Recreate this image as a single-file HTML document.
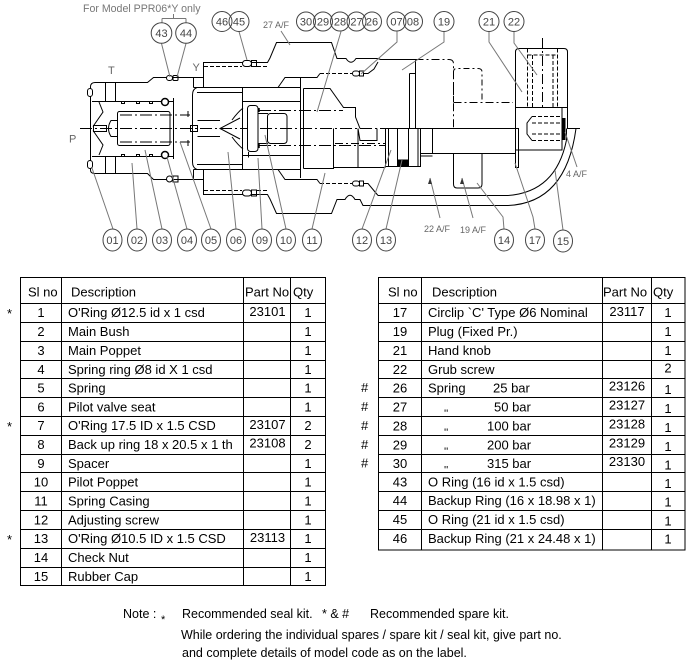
<!DOCTYPE html>
<html><head><meta charset="utf-8">
<style>
html,body{margin:0;padding:0;background:#fff;}
svg{display:block;}
text{font-family:"Liberation Sans",Arial,sans-serif;}
</style></head><body>
<svg width="688" height="667" viewBox="0 0 688 667" xmlns="http://www.w3.org/2000/svg">
<rect width="688" height="667" fill="#fff"/>

<!-- ================= DRAWING ================= -->
<g fill="none" stroke="#000" stroke-width="1">
<path d="M80 128.5H385" stroke-dasharray="12 3 2 3"/>
<path d="M90.5 170V87Q90.5 82.5 95 82.5H147.5L153.5 77.5H193.5V87.5"/>
<path d="M90.5 170Q90.5 173.5 95 173.5H147.5L153.5 179.5H193.5V169.5"/>
<path d="M105.5 82.5V101.5M115.5 82.5V101.5M105.5 156.5V173.5M115.5 156.5V173.5"/>
<path d="M92 101.5H174M92 156.5H174"/>
<rect x="87.5" y="88.5" width="5" height="8" rx="2.5" fill="#fff"/>
<rect x="87.5" y="160.5" width="5" height="8" rx="2.5" fill="#fff"/>
<rect x="121.5" y="101.5" width="3" height="2"/><rect x="136.5" y="101.5" width="3" height="2"/><rect x="149.5" y="101.5" width="3" height="2"/>
<rect x="121.5" y="154.5" width="3" height="2"/><rect x="136.5" y="154.5" width="3" height="2"/><rect x="149.5" y="154.5" width="3" height="2"/>
<path d="M99 102L103 112L93 126.5M99 155L103 145L93 130.5"/>
<rect x="93.5" y="125.5" width="13" height="6"/>
<path d="M117.5 120.5H111Q106 128.5 111 136.5H117.5"/>
<rect x="117.5" y="111.5" width="52.5" height="34" rx="2"/>
<path d="M120 115H190M120 142H190" stroke-dasharray="12 3 2 3"/>
<path d="M173.5 98V159"/>
<circle cx="165" cy="102" r="3.5" stroke-width="1.5" fill="#fff"/>
<circle cx="165" cy="155" r="3.5" stroke-width="1.5" fill="#fff"/>
<path d="M188 111V117M188 140V146"/>
<path d="M193.5 77.5H203.5M193.5 179.5H203.5"/>
<rect x="166.5" y="75.5" width="6" height="5" rx="2.5" fill="#fff"/><rect x="173" y="75.5" width="5" height="5" rx="1"/>
<rect x="166.5" y="176" width="6" height="6" rx="3" fill="#fff"/><rect x="173" y="176" width="5" height="6"/>
<path d="M197 87.5Q192.5 89 192.5 95V162Q192.5 168 197 169.5"/>
<path d="M193.5 87.5H300.5M193.5 169.5H300.5"/>
<path d="M197 92.5H242.5M197 164.5H242.5"/>
<path d="M242.5 87.5V169.5"/>
<rect x="190.5" y="125.5" width="7" height="6"/>
<path d="M197.5 120.5H220M197.5 136.5H220"/>
<path d="M240 118L220 128.5L240 139"/>
<path d="M232 120Q238 112 243 108M232 137Q238 145 243 149"/>
<path d="M242.5 101.5H300.5M242.5 155.5H300.5"/>
<rect x="247.5" y="105.5" width="10.5" height="46" rx="3" fill="#fff"/>
<path d="M258 113.5H268M258 143.5H268"/>
<rect x="267.5" y="113.5" width="19.5" height="30" rx="3"/>
<path d="M259 110.5H343M259 145.5H385" stroke-dasharray="12 3 2 3"/>
<path d="M259 108V112M259 144V148" stroke-width="1.5"/>
<path d="M248.5 152V157.5"/>
<path d="M203.5 87.5V62.5H267.5L270 58L276.5 42.5H331.5L337 58.5H346Q351 66 356 58.5H378L380.5 59.5H415.5"/>
<path d="M415.5 59.5H449Q453.5 59.5 453.5 64V128.5" stroke-dasharray="8 3 2 3"/>
<path d="M204 66.5H242M257 66.5H268" stroke-dasharray="4 2"/>
<rect x="242.5" y="60.5" width="9" height="6" rx="3" fill="#fff"/><rect x="251.5" y="60.5" width="5" height="6"/>
<path d="M203.5 169.5V194.5H267.5L270 199L276.5 213.5H331.5L337 199.5H345Q350 191 355 199.5H360L363 205.5H508"/>
<path d="M204 190.5H242M257 190.5H268" stroke-dasharray="4 2"/>
<rect x="242.5" y="190" width="9" height="6" rx="3" fill="#fff"/><rect x="251.5" y="190" width="5" height="6"/>
<path d="M278 87.5L285 77.5H317L320 73.5M363 73.5H368L374 69L378 62"/>
<path d="M320 73.5H352" stroke-dasharray="4 2"/>
<rect x="352.5" y="71" width="7" height="5" rx="2.5" fill="#fff"/><rect x="359.5" y="71" width="4" height="5"/>
<path d="M278 169.5L285 179.5H317L320 183.5M363 183.5H368L378 195.5"/>
<path d="M320 183.5H352" stroke-dasharray="4 2"/>
<rect x="352.5" y="181" width="7" height="5" rx="2.5" fill="#fff"/><rect x="359.5" y="181" width="4" height="5"/>
<path d="M300.5 78V178M303.5 88.5V168.5"/>
<path d="M303.5 88.5H330L343.5 107.5H355.5V117L360 128.5"/>
<path d="M303.5 168.5H333.5V128.5M333.5 167.5H358V128.5"/>
<path d="M358 128.5L360 140.5H377V128.5"/>
<path d="M335 143.5H385" stroke-dasharray="8 3 2 3"/>
<path d="M335 167.5H385.5"/>
<rect x="385.5" y="128.5" width="35" height="38"/>
<path d="M388.5 128.5V166.5M397.5 128.5V166.5M408.5 128.5V166.5M418 128.5V166.5"/>
<rect x="397.5" y="160" width="11" height="6.5" fill="#000"/>
<path d="M409.5 73.5V128.5M415.5 59.5V128.5M409.5 73.5H415.5"/>
<path d="M385.5 128.5H515.5"/>
<path d="M432.5 128.5V153.5M420.5 153.5H515.5M420.5 156H432.5"/>
<path d="M453.5 102.5H513" stroke-dasharray="8 3 2 3"/>
<path d="M453.5 102V72Q453.5 68.5 457 68.5H478Q482 68.5 482 72V102" stroke-dasharray="6 3 2 3"/>
<path d="M453.5 153.5V184Q453.5 188 457 188H478Q482 188 482 184V153.5"/>
<path d="M515.5 107.5V52Q515.5 48.5 519 48.5H564Q567.5 48.5 567.5 52V128.5"/>
<path d="M515.5 107.5H567.5"/>
<rect x="515.5" y="107.5" width="46.5" height="42.5"/>
<path d="M527.5 48.5V107M557.5 48.5V107M532.5 55V107M553 55V107M527.5 55H557.5" stroke-dasharray="4 2"/>
<path d="M542.5 38V110" stroke-dasharray="10 3 2 3"/>
<path d="M532 116.5H562M532 123H562M532 134H562M532 140.5H562" stroke-dasharray="4 2"/>
<path d="M532 116.5L527 123V134L532 140.5"/>
<rect x="515.5" y="128.5" width="3" height="39"/>
<rect x="562.5" y="118" width="3" height="22" fill="#000" stroke="none"/>
<path d="M567 128.5H580"/>
<path d="M508 205.5Q566 203 576 128.5"/>
<path d="M378 195.5H508Q556 192 566.5 140"/>
<path d="M566.5 128.5V140M576 128.5H570"/>
</g>

<g fill="none" stroke="#777" stroke-width="1">
<path d="M161.5 43.5L170 77M186 43.5L177 77"/>
<path d="M173.5 14V18.5M162 18.5H186M162 18.5V23M186 18.5V23"/>
<path d="M239 31.5L247 60"/>
<path d="M281 31L290 45"/>
<path d="M341 31.5L317 112"/>
<path d="M397 31.5V42L361 74"/>
<path d="M444 31.5V42L402 70"/>
<path d="M489 31.5V42L522 92"/>
<path d="M514 31.5V43L537 75"/>
<path d="M113 229L92 168M137 229L132 163M162 229L145 150M187 229L167 157M211 229L180 142"/>
<path d="M236 229L228 152M262 229L258 158M286 229L265 135M312 229L325 173"/>
<path d="M362 229L391 150M386 229L402 160"/>
<path d="M440 218L430 178M473 218L462 178"/>
<path d="M504 229L503 217L477 183M535 229L533 217L515 163M563 230L555 170M577 167L565 132"/>
</g>
<path d="M430 178l-2 6h4zM462 178l-2 6h4z" fill="#333"/>

<g fill="none" stroke="#444" stroke-width="1">
<circle cx="161.5" cy="33" r="10.3"/><circle cx="186" cy="33" r="10.3"/>
<circle cx="222" cy="21.5" r="10"/><circle cx="239" cy="21.5" r="10"/>
<circle cx="306" cy="21.5" r="9.5"/><circle cx="323" cy="21.5" r="9.5"/><circle cx="340" cy="21.5" r="9.5"/><circle cx="356.5" cy="21.5" r="9.5"/><circle cx="372" cy="21.5" r="9.5"/>
<circle cx="396.5" cy="21.5" r="9.5"/><circle cx="413" cy="21.5" r="9.5"/>
<circle cx="444" cy="21.5" r="10"/><circle cx="489" cy="21.5" r="10"/><circle cx="514" cy="21.5" r="10"/>
<ellipse cx="112.5" cy="240" rx="9.5" ry="11"/><ellipse cx="137" cy="240" rx="9.5" ry="11"/><ellipse cx="162" cy="240" rx="9.5" ry="11"/><ellipse cx="187" cy="240" rx="9.5" ry="11"/>
<ellipse cx="211" cy="240" rx="9.5" ry="11"/><ellipse cx="236" cy="240" rx="9.5" ry="11"/><ellipse cx="262" cy="240" rx="9.5" ry="11"/><ellipse cx="286" cy="240" rx="9.5" ry="11"/>
<ellipse cx="312" cy="240" rx="9.5" ry="11"/><ellipse cx="362" cy="240" rx="9.5" ry="11"/><ellipse cx="386" cy="240" rx="9.5" ry="11"/>
<ellipse cx="504" cy="240" rx="9.5" ry="11"/><ellipse cx="535" cy="240" rx="9.5" ry="11"/><ellipse cx="563" cy="241" rx="9.5" ry="11"/>
</g>
<g font-size="11" fill="#444" text-anchor="middle">
<text x="161.5" y="37">43</text><text x="186" y="37">44</text>
<text x="222" y="25.5">46</text><text x="239" y="25.5">45</text>
<text x="306" y="25.5">30</text><text x="323" y="25.5">29</text><text x="340" y="25.5">28</text><text x="356.5" y="25.5">27</text><text x="372" y="25.5">26</text>
<text x="396.5" y="25.5">07</text><text x="413" y="25.5">08</text>
<text x="444" y="25.5">19</text><text x="489" y="25.5">21</text><text x="514" y="25.5">22</text>
<text x="112.5" y="244">01</text><text x="137" y="244">02</text><text x="162" y="244">03</text><text x="187" y="244">04</text>
<text x="211" y="244">05</text><text x="236" y="244">06</text><text x="262" y="244">09</text><text x="286" y="244">10</text>
<text x="312" y="244">11</text><text x="362" y="244">12</text><text x="386" y="244">13</text>
<text x="504" y="244">14</text><text x="535" y="244">17</text><text x="563" y="245">15</text>
</g>
<g fill="#666">
<text x="83" y="12" font-size="10.6" fill="#777">For Model PPR06*Y only</text>
<text x="263" y="28" font-size="9">27 A/F</text>
<text x="424" y="232" font-size="9">22 A/F</text>
<text x="460" y="233" font-size="9">19 A/F</text>
<text x="566" y="177" font-size="9">4 A/F</text>
<text x="108" y="74" font-size="11">T</text>
<text x="192.5" y="71" font-size="11">Y</text>
<text x="69" y="142.5" font-size="11">P</text>
</g>

<!-- ================= TABLES ================= -->
<g stroke="#000" stroke-width="1" fill="none" shape-rendering="crispEdges">
<rect x="20.5" y="277.5" width="305" height="308"/>
<path d="M61.5 277V586M243.5 277V586M290.5 277V586"/>
<path d="M20 303.5H326M20 322.5H326M20 341.5H326M20 360.5H326M20 378.5H326M20 397.5H326M20 416.5H326M20 435.5H326M20 454.5H326M20 472.5H326M20 491.5H326M20 510.5H326M20 529.5H326M20 548.5H326M20 567.5H326"/>
<rect x="378.5" y="277.5" width="306.5" height="272.5"/>
<path d="M421.5 277V550M602.5 277V550M651.5 277V550"/>
<path d="M378 303.5H685M378 322.5H685M378 341.5H685M378 360.5H685M378 378.5H685M378 397.5H685M378 416.5H685M378 435.5H685M378 454.5H685M378 472.5H685M378 491.5H685M378 510.5H685M378 529.5H685"/>
</g>

<g font-size="13" fill="#000">
<text x="28" y="296.5">Sl no</text>
<text x="71" y="296.5">Description</text>
<text x="245" y="296.5">Part No</text>
<text x="293" y="296.5">Qty</text>
<text x="7" y="318">*</text><text x="7" y="431">*</text><text x="7" y="544">*</text>
<text x="68" y="316.8">O'Ring Ø12.5 id x 1 csd</text>
<text x="68" y="335.8">Main Bush</text>
<text x="68" y="354.8">Main Poppet</text>
<text x="68" y="373.8">Spring ring Ø8 id X 1 csd</text>
<text x="68" y="392.3">Spring</text>
<text x="68" y="411.3">Pilot valve seat</text>
<text x="68" y="429.8">O'Ring 17.5 ID x 1.5 CSD</text>
<text x="68" y="448.8">Back up ring 18 x 20.5 x 1 th</text>
<text x="68" y="467.8">Spacer</text>
<text x="68" y="486.3">Pilot Poppet</text>
<text x="68" y="505.3">Spring Casing</text>
<text x="68" y="524.3">Adjusting screw</text>
<text x="68" y="542.8">O'Ring Ø10.5 ID x 1.5 CSD</text>
<text x="68" y="561.8">Check Nut</text>
<text x="68" y="580.8">Rubber Cap</text>
<g text-anchor="middle">
<text x="41" y="316.8">1</text><text x="41" y="335.8">2</text><text x="41" y="354.8">3</text><text x="41" y="373.8">4</text>
<text x="41" y="392.3">5</text><text x="41" y="411.3">6</text><text x="41" y="429.8">7</text><text x="41" y="448.8">8</text>
<text x="41" y="467.8">9</text><text x="41" y="486.3">10</text><text x="41" y="505.3">11</text><text x="41" y="524.3">12</text>
<text x="41" y="542.8">13</text><text x="41" y="561.8">14</text><text x="41" y="580.8">15</text>
<text x="267.5" y="315.8">23101</text><text x="267.5" y="428.8">23107</text><text x="267.5" y="447.3">23108</text><text x="267.5" y="541.8">23113</text>
<text x="308" y="316.8">1</text><text x="308" y="335.8">1</text><text x="308" y="354.8">1</text><text x="308" y="373.8">1</text>
<text x="308" y="392.3">1</text><text x="308" y="411.3">1</text><text x="308" y="429.8">2</text><text x="308" y="448.8">2</text>
<text x="308" y="467.8">1</text><text x="308" y="486.3">1</text><text x="308" y="505.3">1</text><text x="308" y="524.3">1</text>
<text x="308" y="542.8">1</text><text x="308" y="561.8">1</text><text x="308" y="580.8">1</text>
</g>

<text x="388" y="296.5">Sl no</text>
<text x="432" y="296.5">Description</text>
<text x="603" y="296.5">Part No</text>
<text x="653" y="296.5">Qty</text>
<text x="361" y="391.8">#</text><text x="361" y="410.8">#</text><text x="361" y="429.8">#</text><text x="361" y="448.8">#</text><text x="361" y="467.3">#</text>
<text x="428" y="316.8">Circlip  `C' Type Ø6 Nominal</text>
<text x="428" y="335.8">Plug (Fixed Pr.)</text>
<text x="428" y="354.8">Hand knob</text>
<text x="428" y="373.8">Grub screw</text>
<text x="428" y="392.3">Spring</text><text x="493" y="392.3">25 bar</text>
<text x="444" y="417" font-size="11">''</text><text x="494" y="411.3">50 bar</text>
<text x="444" y="436" font-size="11">''</text><text x="487" y="430.3">100 bar</text>
<text x="444" y="455" font-size="11">''</text><text x="487" y="449.3">200 bar</text>
<text x="444" y="473.5" font-size="11">''</text><text x="487" y="467.8">315 bar</text>
<text x="428" y="486.3">O Ring (16 id x 1.5 csd)</text>
<text x="428" y="504.8">Backup Ring (16 x 18.98 x 1)</text>
<text x="428" y="523.8">O Ring (21 id x 1.5 csd)</text>
<text x="428" y="542.8">Backup Ring (21 x 24.48 x 1)</text>
<g text-anchor="middle">
<text x="400" y="316.8">17</text><text x="400" y="335.8">19</text><text x="400" y="354.8">21</text><text x="400" y="373.8">22</text>
<text x="400" y="392.3">26</text><text x="400" y="411.3">27</text><text x="400" y="430.3">28</text><text x="400" y="449.3">29</text>
<text x="400" y="467.8">30</text><text x="400" y="486.3">43</text><text x="400" y="504.8">44</text><text x="400" y="523.8">45</text><text x="400" y="542.8">46</text>
<text x="627" y="315.8">23117</text>
<text x="627" y="390.5">23126</text><text x="627" y="409.5">23127</text><text x="627" y="428.5">23128</text><text x="627" y="447.5">23129</text><text x="627" y="466">23130</text>
<text x="668" y="316.8">1</text><text x="668" y="335.8">1</text><text x="668" y="354.8">1</text><text x="668" y="372.5">2</text>
<text x="668" y="394">1</text><text x="668" y="413">1</text><text x="668" y="432">1</text><text x="668" y="451">1</text>
<text x="668" y="469.5">1</text><text x="668" y="488">1</text><text x="668" y="506.5">1</text><text x="668" y="525.5">1</text><text x="668" y="543.5">1</text>
</g>
</g>

<g font-size="12.5" fill="#000">
<text x="123" y="618">Note :</text>
<text x="161" y="623" font-size="11">*</text>
<text x="182" y="618">Recommended seal kit.</text>
<text x="322" y="618">* &amp; #</text>
<text x="370" y="618">Recommended spare kit.</text>
<text x="181" y="639">While ordering the individual spares / spare kit / seal kit, give part no.</text>
<text x="182" y="657">and complete details of  model code as on the label.</text>
</g>
</svg>
</body></html>
